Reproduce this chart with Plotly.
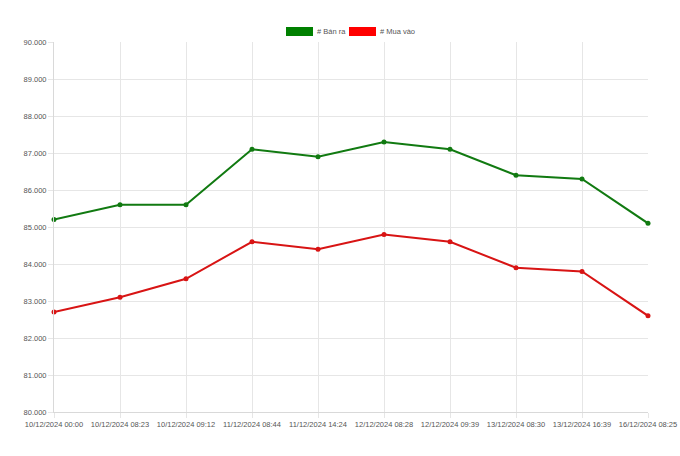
import plotly.graph_objects as go

categories = ["10/12/2024 00:00", "10/12/2024 08:23", "10/12/2024 09:12", "11/12/2024 08:44",
              "11/12/2024 14:24", "12/12/2024 08:28", "12/12/2024 09:39", "13/12/2024 08:30",
              "13/12/2024 16:39", "16/12/2024 08:25"]
ban_ra = [85200, 85600, 85600, 87100, 86900, 87300, 87100, 86400, 86300, 85100]
mua_vao = [82700, 83100, 83600, 84600, 84400, 84800, 84600, 83900, 83800, 82600]
series_names = ["# Bán ra", "# Mua vào"]
series_colors = ["green", "red"]
line_colors = ["#117a11", "#d81414"]

W, H = 680, 456
L, R, T, B = 54, 32, 42, 44
PW, PH = W - L - R, H - T - B

fig = go.Figure()
for name, vals, col in zip(series_names, [ban_ra, mua_vao], line_colors):
    fig.add_trace(go.Scatter(
        x=categories, y=vals, name=name, mode="lines+markers",
        line=dict(color=col, width=2),
        marker=dict(color=col, size=5),
        cliponaxis=False, showlegend=False,
    ))

font = "Liberation Sans, Arial, sans-serif"
fs = 7.5
txt_col = "#555"

def px2x(px):
    return (px - L) / PW

def py2y(py):
    return (H - B - py) / PH

legend_items = [(286, 313, series_names[0], series_colors[0]),
                (349, 376, series_names[1], series_colors[1])]
shapes = []
annotations = []
for x0, x1, name, col in legend_items:
    shapes.append(dict(type="rect", xref="paper", yref="paper",
                       x0=px2x(x0), x1=px2x(x1), y0=py2y(36), y1=py2y(27),
                       fillcolor=col, line=dict(width=0)))
    annotations.append(dict(xref="paper", yref="paper", x=px2x(x1 + 2), y=py2y(31.5),
                            text=name, showarrow=False, xanchor="left", yanchor="middle",
                            font=dict(family=font, size=fs, color=txt_col)))

fig.update_layout(
    width=W, height=H,
    margin=dict(l=L, r=R, t=T, b=B),
    paper_bgcolor="white", plot_bgcolor="white",
    separators=",.",
    font=dict(family=font, size=fs, color=txt_col),
    shapes=shapes, annotations=annotations,
    xaxis=dict(type="category", range=[0, len(categories) - 1], showgrid=True,
               gridcolor="#e6e6e6", gridwidth=1, showline=True, linecolor="#d9d9d9",
               ticks="outside", ticklen=5, tickcolor="#e6e6e6", tickangle=0,
               automargin=False, zeroline=False),
    yaxis=dict(range=[80000, 90000], dtick=1000, tick0=80000, tickformat=",d",
               showgrid=True, gridcolor="#e6e6e6", gridwidth=1, showline=True,
               linecolor="#d9d9d9", ticks="outside", ticklen=5, tickcolor="#e6e6e6",
               automargin=False, zeroline=False),
)

fig.write_html("out.html")
